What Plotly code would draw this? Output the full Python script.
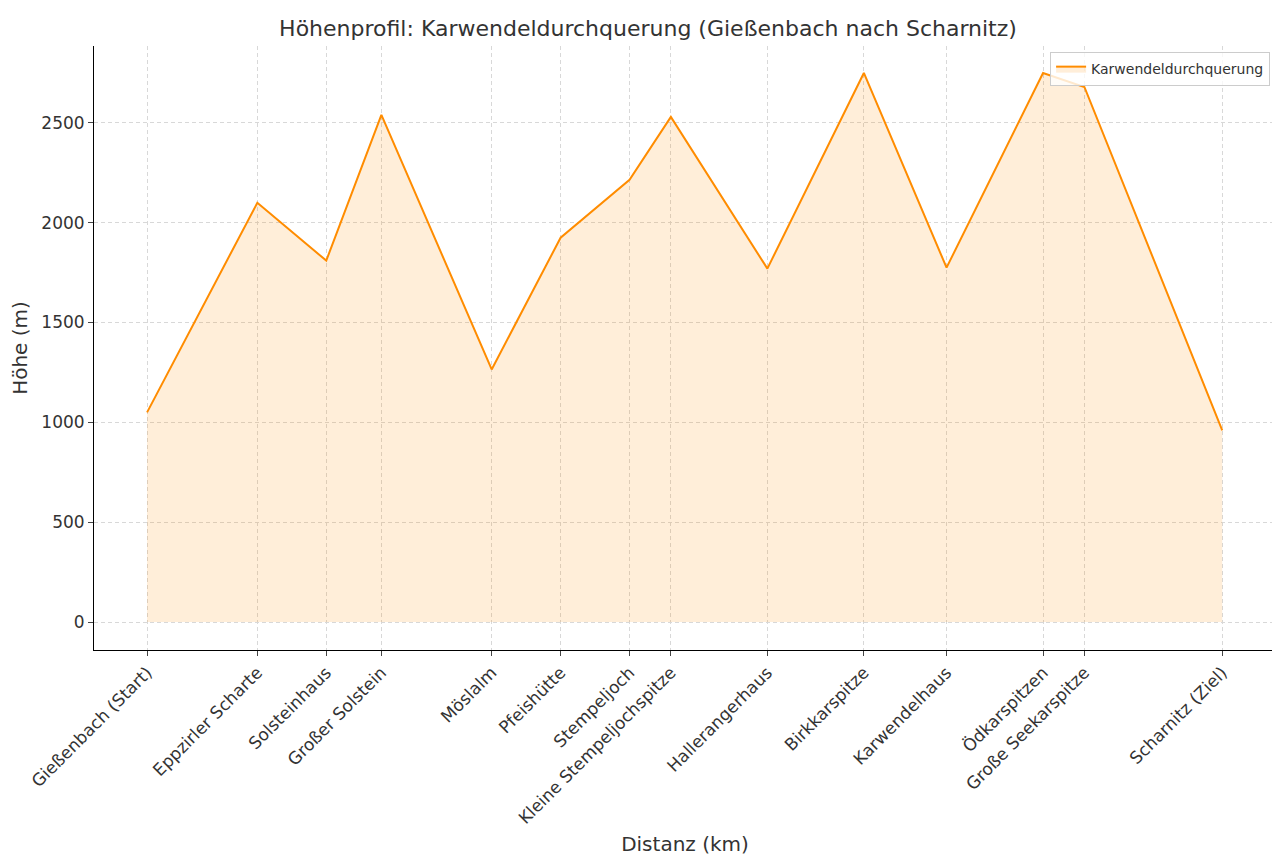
import plotly.graph_objects as go

dist_km = [0, 8, 13, 17, 25, 30, 35, 38, 45, 52, 58, 65, 68, 78]
elev_m = [1050, 2100, 1810, 2540, 1265, 1925, 2215, 2530, 1770, 2750, 1775, 2750, 2680, 960]
places = ["Gießenbach (Start)", "Eppzirler Scharte", "Solsteinhaus", "Großer Solstein", "Möslalm",
          "Pfeishütte", "Stempeljoch", "Kleine Stempeljochspitze", "Hallerangerhaus", "Birkkarspitze",
          "Karwendelhaus", "Ödkarspitzen", "Große Seekarspitze", "Scharnitz (Ziel)"]

fig = go.Figure()
fig.add_trace(go.Scatter(x=dist_km, y=elev_m, mode="lines", fill="tozeroy",
                         fillcolor="rgba(255,140,0,0.15)", line=dict(color="#ff8c00", width=2),
                         name="Karwendeldurchquerung"))
fig.update_layout(
    width=1280, height=855, plot_bgcolor="white", paper_bgcolor="white",
    font=dict(family="DejaVu Sans", size=17, color="#333"),
    margin=dict(l=86, r=12, t=38, b=213, autoexpand=False),
    title=dict(text="Höhenprofil: Karwendeldurchquerung (Gießenbach nach Scharnitz)",
               x=0.5, xanchor="center", y=0.976, yanchor="middle", font=dict(size=22)),
    showlegend=True,
    legend=dict(x=0.995, y=0.99, xanchor="right", yanchor="top", bordercolor="#ccc", borderwidth=1,
                bgcolor="rgba(255,255,255,0.8)", font=dict(size=14)),
)
fig.update_xaxes(range=[-3.85, 81.9], tickvals=dist_km, ticktext=places, tickangle=-45,
                 showgrid=True, gridcolor="#d8d8d8", griddash="4px,3px", showline=True, linecolor="black",
                 ticks="outside", title=dict(text="Distanz (km)", standoff=10), zeroline=False, automargin=False)
fig.update_yaxes(range=[-140, 2885], tickvals=[0, 500, 1000, 1500, 2000, 2500],
                 showgrid=True, gridcolor="#d8d8d8", griddash="4px,3px", showline=True, linecolor="black",
                 ticks="outside", title=dict(text="Höhe (m)", standoff=8), zeroline=False, automargin=False)
fig.write_html("out.html")
